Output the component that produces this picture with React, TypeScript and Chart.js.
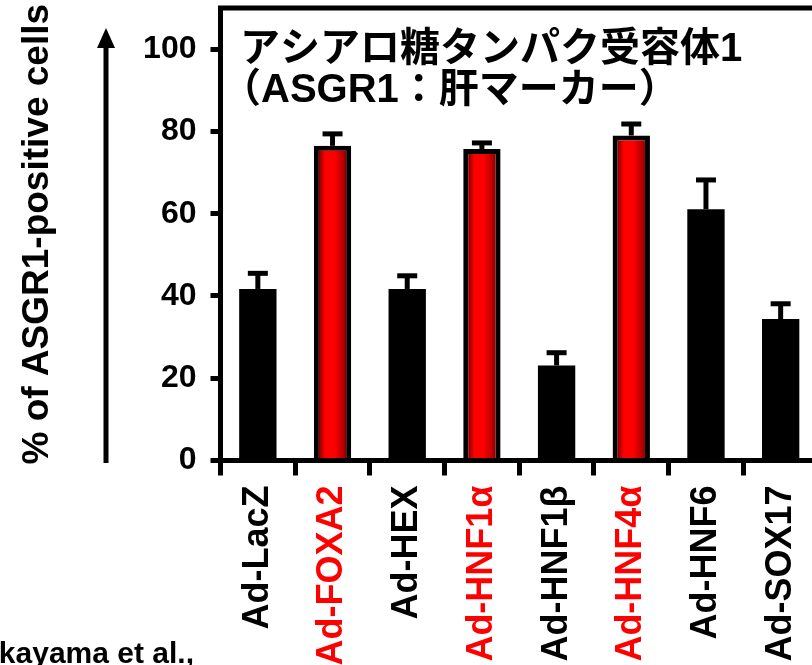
import React, { useEffect, useRef } from "react";
import { Chart, registerables } from "chart.js";

Chart.register(...registerables);

// ---- data ----
const categories = ["Ad-LacZ", "Ad-FOXA2", "Ad-HEX", "Ad-HNF1α", "Ad-HNF1β", "Ad-HNF4α", "Ad-HNF6", "Ad-SOX17"];
const values = [41.7, 76.5, 41.7, 75.7, 23.1, 79.0, 61.1, 34.4];
const errors = [3.8, 2.9, 3.2, 1.5, 3.1, 2.8, 7.1, 3.7];
const highlighted = [false, true, false, true, false, true, false, false];
const yTicks = [0, 20, 40, 60, 80, 100];
const yMax = 110;
const titleLines = ["アシアロ糖タンパク受容体1", "（ASGR1：肝マーカー）"];
const yTitle = "% of ASGR1-positive cells";
const citation = "Takayama et al.,";

const RED = "#ff0000";
const BLACK = "#000000";
const CANVAS_W = 830;
const CANVAS_H = 700;
const AXIS_BOTTOM = 460.5;
const AXIS_LEFT = 220.5;

const decorPlugin = {
  id: "decor",
  afterDatasetsDraw(chart: any) {
    const { ctx } = chart;
    const x = chart.scales.x;
    const y = chart.scales.y;
    ctx.save();
    ctx.strokeStyle = BLACK;
    ctx.lineWidth = 5;
    ctx.lineCap = "butt";
    values.forEach((v: number, i: number) => {
      const px = x.getPixelForValue(i);
      const top = y.getPixelForValue(v);
      const end = y.getPixelForValue(v + errors[i]);
      ctx.beginPath();
      ctx.moveTo(px, top);
      ctx.lineTo(px, end);
      ctx.stroke();
      ctx.beginPath();
      ctx.moveTo(px - 10, end);
      ctx.lineTo(px + 10, end);
      ctx.stroke();
    });
    ctx.restore();
  },
  afterDraw(chart: any) {
    const { ctx, chartArea } = chart;
    ctx.save();
    // top frame line
    ctx.strokeStyle = BLACK;
    ctx.lineWidth = 5;
    ctx.beginPath();
    ctx.moveTo(chartArea.left - 2.5, chartArea.top);
    ctx.lineTo(chart.width, chartArea.top);
    ctx.stroke();

    // arrow
    ctx.lineWidth = 5;
    ctx.beginPath();
    ctx.moveTo(106, 463);
    ctx.lineTo(106, 44);
    ctx.stroke();
    ctx.fillStyle = BLACK;
    ctx.beginPath();
    ctx.moveTo(106, 28);
    ctx.lineTo(97, 48);
    ctx.lineTo(115, 48);
    ctx.closePath();
    ctx.fill();

    // y title
    ctx.save();
    ctx.translate(48, (chartArea.top + chartArea.bottom) / 2);
    ctx.rotate(-Math.PI / 2);
    ctx.font = "bold 37px 'Liberation Sans', Arial, sans-serif";
    ctx.textAlign = "center";
    ctx.textBaseline = "alphabetic";
    ctx.fillStyle = BLACK;
    ctx.fillText(yTitle, 0, 0);
    ctx.restore();

    // Japanese title
    ctx.font = "bold 40px 'Liberation Sans', 'Noto Sans CJK JP', sans-serif";
    ctx.textAlign = "left";
    ctx.textBaseline = "alphabetic";
    ctx.fillStyle = BLACK;
    ctx.fillText(titleLines[0], 240, 61);
    ctx.fillText(titleLines[1], 221, 102);

    // citation
    ctx.font = "bold 30px 'Liberation Sans', Arial, sans-serif";
    ctx.textAlign = "right";
    ctx.fillText(citation, 194, 663);
    ctx.restore();
  },
};

export default function App() {
  const canvasRef = useRef<HTMLCanvasElement | null>(null);

  useEffect(() => {
    const canvas = canvasRef.current;
    if (!canvas) return;

    const barColor = (c: any) => {
      const i = c.dataIndex;
      if (i === undefined || !highlighted[i]) return BLACK;
      const chart = c.chart;
      const xs = chart.scales && chart.scales.x;
      if (!xs || !chart.chartArea) return RED;
      const cx = xs.getPixelForValue(i);
      const w = (xs.width / categories.length) * 0.5;
      const g = chart.ctx.createLinearGradient(cx - w / 2, 0, cx + w / 2, 0);
      g.addColorStop(0, "#300000");
      g.addColorStop(0.14, "#8a0000");
      g.addColorStop(0.3, "#ff0000");
      g.addColorStop(0.55, "#ff0000");
      g.addColorStop(0.8, "#b00000");
      g.addColorStop(1, "#200000");
      return g;
    };

    const chart = new Chart(canvas, {
      type: "bar",
      data: {
        labels: categories,
        datasets: [
          {
            data: values,
            backgroundColor: barColor as any,
            borderColor: BLACK,
            borderWidth: ((c: any) => (highlighted[c.dataIndex] ? 5 : 0)) as any,
            borderSkipped: "start",
            barPercentage: 0.5,
            categoryPercentage: 1.0,
          },
        ],
      },
      options: {
        responsive: false,
        animation: false,
        events: [],
        layout: { padding: { top: 8, right: CANVAS_W - 818, left: 0, bottom: 0 } },
        plugins: {
          legend: { display: false },
          tooltip: { enabled: false },
          title: { display: false },
        },
        scales: {
          x: {
            type: "category",
            offset: true,
            z: 1,
            grid: {
              display: true,
              offset: true,
              drawOnChartArea: false,
              drawTicks: true,
              tickLength: 15,
              lineWidth: 5,
              tickWidth: 5,
              color: BLACK,
              tickColor: BLACK,
            },
            border: { display: true, width: 5, color: BLACK },
            ticks: {
              autoSkip: false,
              minRotation: 90,
              maxRotation: 90,
              padding: 10,
              font: { family: "'Liberation Sans', Arial, sans-serif", size: 36, weight: "bold" },
              color: ((c: any) => (highlighted[c.index] ? RED : BLACK)) as any,
            },
            afterFit: (s: any) => {
              s.height = CANVAS_H - AXIS_BOTTOM;
              s.paddingLeft = 0;
              s.paddingRight = 0;
              s.paddingTop = 0;
              s.paddingBottom = 0;
            },
          },
          y: {
            min: 0,
            max: yMax,
            grid: {
              display: true,
              drawOnChartArea: false,
              drawTicks: true,
              tickLength: 10,
              lineWidth: 5,
              tickWidth: 5,
              color: BLACK,
              tickColor: BLACK,
            },
            border: { display: true, width: 5, color: BLACK },
            ticks: {
              padding: 14,
              color: BLACK,
              font: { family: "'Liberation Sans', Arial, sans-serif", size: 32, weight: "bold" },
            },
            afterBuildTicks: (s: any) => {
              s.ticks = yTicks.map((v) => ({ value: v }));
            },
            afterFit: (s: any) => {
              s.width = AXIS_LEFT;
              s.paddingLeft = 0;
              s.paddingRight = 0;
              s.paddingTop = 0;
              s.paddingBottom = 0;
            },
          },
        },
      },
      plugins: [decorPlugin],
    } as any);

    return () => chart.destroy();
  }, []);

  return (
    <div
      style={{
        position: "absolute",
        left: 0,
        top: 0,
        width: 812,
        height: 665,
        overflow: "hidden",
        background: "#ffffff",
      }}
    >
      <canvas
        ref={canvasRef}
        width={CANVAS_W}
        height={CANVAS_H}
        style={{ display: "block", width: CANVAS_W, height: CANVAS_H }}
      />
    </div>
  );
}
